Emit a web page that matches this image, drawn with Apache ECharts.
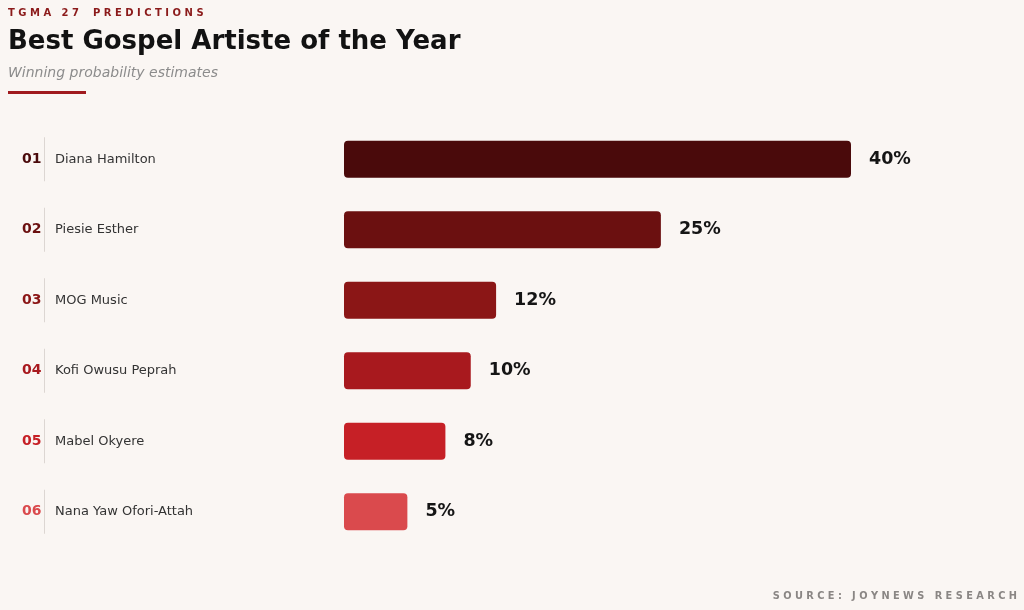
<!DOCTYPE html>
<html>
<head>
<meta charset="utf-8">
<script src="https://cdn.jsdelivr.net/npm/echarts@6/dist/echarts.min.js"></script>
<style>
  html, body { margin: 0; padding: 0; background: #faf6f3; }
  #main { width: 1024px; height: 610px; }
</style>
</head>
<body>
<div id="main"></div>
<script>
// data
const ranks = ['01', '02', '03', '04', '05', '06']
const artists = ['Diana Hamilton', 'Piesie Esther', 'MOG Music', 'Kofi Owusu Peprah', 'Mabel Okyere', 'Nana Yaw Ofori-Attah']
const probs = [40, 25, 12, 10, 8, 5]

// dark -> light red
const palette = ['#4a0a0b', '#6b1010', '#8b1616', '#a8191e', '#c62026', '#da4a4d']

const FONT = 'DejaVu Sans'

const rich = {
  sep: { width: 1, height: 44, backgroundColor: '#dcd6d2' },
  name: { fontFamily: FONT, fontSize: 13, color: '#333', padding: [0, 0, 0, 10] }
}
palette.forEach((c, i) => {
  rich['r' + i] = { fontFamily: FONT, fontSize: 14, fontWeight: 'bold', color: c, width: 22 }
})

const chart = echarts.init(document.getElementById('main'))
const option = {
  backgroundColor: '#faf6f3',
  animation: false,
  graphic: [
    {
      type: 'text', left: 8, top: 8,
      style: { text: 'T G M A   2 7    P R E D I C T I O N S', font: 'bold 10px "DejaVu Sans"', fill: '#8b1a1a' }
    },
    {
      type: 'text', left: 8, top: 29,
      style: { text: 'Best Gospel Artiste of the Year', font: 'bold 26px "DejaVu Sans"', fill: '#121212' }
    },
    {
      type: 'text', left: 8, top: 66,
      style: { text: 'Winning probability estimates', font: 'italic 14px "DejaVu Sans"', fill: '#8c8c8c' }
    },
    {
      type: 'rect', left: 8, top: 91,
      shape: { width: 78, height: 3 },
      style: { fill: '#a01a1e' }
    },
    {
      type: 'text', right: 7, top: 591,
      style: { text: 'S O U R C E :   J O Y N E W S   R E S E A R C H', font: 'bold 9.8px "DejaVu Sans"', fill: '#8a8684' }
    }
  ],
  grid: {
    left: 344,
    right: 173,
    top: 124,
    bottom: 63
  },
  xAxis: {
    type: 'value',
    min: 0,
    max: 40,
    show: false
  },
  yAxis: {
    type: 'category',
    inverse: true,
    data: artists,
    axisLine: { show: false },
    axisTick: { show: false },
    splitLine: { show: false },
    axisLabel: {
      align: 'left',
      margin: 322,
      formatter: (v, i) => `{r${i}|${ranks[i]}}{sep|}{name|${v}}`,
      rich: rich
    }
  },
  series: [{
    type: 'bar',
    barWidth: 37,
    data: probs.map((v, i) => ({
      value: v,
      itemStyle: { color: palette[i], borderRadius: 4 }
    })),
    label: {
      show: true,
      position: 'right',
      distance: 18,
      formatter: '{c}%',
      fontFamily: FONT,
      fontSize: 17.5,
      fontWeight: 'bold',
      color: '#151515'
    }
  }]
}
chart.setOption(option)
</script>
</body>
</html>
